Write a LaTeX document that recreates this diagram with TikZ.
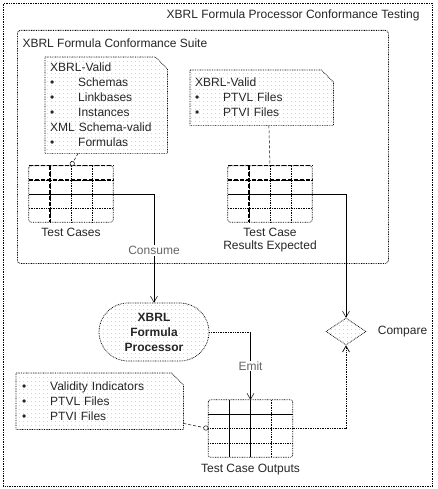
\documentclass[tikz,border=0pt]{standalone}
\usepackage{fontspec}
\setmainfont{Liberation Sans}
\usetikzlibrary{arrows.meta,calc,positioning,shapes.geometric,patterns.meta,backgrounds}

\newcommand{\noteitem}[1]{\makebox[28pt][l]{\textbullet}#1}
% note outline with folded corner, drawn behind the text
\newcommand{\foldnote}[1]{%
  \draw[noteline] (#1.north west) -- ([xshift=-12pt]#1.north east) -- ([yshift=-12pt]#1.north east)
    -- (#1.south east) -- (#1.south west) -- cycle;
}
% 4x4 table grid on a table node
\newcommand{\casegrid}[1]{%
  \draw[cellline, rounded corners=2pt] (#1.north west) rectangle (#1.south east);
  \foreach \k in {1,2,3} {
    \draw[cellline] ($(#1.north west)!{\k/4}!(#1.north east)$) -- ($(#1.south west)!{\k/4}!(#1.south east)$);
    \draw[cellline] ($(#1.north west)!{\k/4}!(#1.south west)$) -- ($(#1.north east)!{\k/4}!(#1.south east)$);
  }
}
\newcommand{\headgrid}[1]{%
  \draw[headline] (#1.north west) -- (#1.north east);
  \draw[headline] ($(#1.north west)!0.25!(#1.south west)$) -- ($(#1.north east)!0.25!(#1.south east)$);
  \draw[headline] ($(#1.north west)!0.25!(#1.north east)$) -- ($(#1.south west)!0.25!(#1.south east)$);
  \draw[line width=0.5pt] (#1.west) -- (#1.east);
}

\tikzset{
  every node/.style={font=\fontsize{12}{15}\selectfont, text=black!85},
  dotfill/.style={pattern={Dots[distance=4pt,radius=0.4pt]}, pattern color=black!40},
  frameline/.style={draw, line width=0.8pt, dash pattern=on 0.8pt off 0.9pt, inner sep=0pt, anchor=north west},
  note/.style={rectangle, align=left, inner xsep=5pt, inner ysep=0pt, anchor=north west},
  noteline/.style={line width=0.7pt, dash pattern=on 0.8pt off 0.9pt, dotfill},
  tablebox/.style={rectangle, minimum width=84pt, minimum height=56pt, inner sep=0pt},
  tablelbl/.style={align=center, font=\fontsize{12}{13}\selectfont},
  cellline/.style={line width=0.7pt, dash pattern=on 0.8pt off 0.9pt},
  headline/.style={line width=1.3pt, dash pattern=on 4pt off 2pt},
  flow/.style={line width=0.5pt, -{Straight Barb[length=6pt,width=7pt]}},
  anchorline/.style={line width=0.5pt, dash pattern=on 3pt off 2pt, -{Circle[open,length=5pt,fill=white]}},
  lbl/.style={fill=white, inner sep=1pt, text=black!60},
  process/.style={rectangle, draw, line width=0.7pt, dash pattern=on 0.8pt off 0.9pt, rounded corners=29pt,
    minimum width=110pt, minimum height=58pt, align=center, dotfill,
    font=\fontsize{12}{15}\selectfont\bfseries},
  decision/.style={diamond, draw, line width=0.7pt, dash pattern=on 0.8pt off 0.9pt, minimum width=40pt,
    minimum height=27pt, inner sep=0pt, dotfill},
}

\begin{document}
\begin{tikzpicture}[x=1pt,y=-1pt]
    \useasboundingbox (0,0) rectangle (437,489);
    % frames
    \node[frameline, minimum width=429pt, minimum height=483pt] (testing) at (3,3) {};
    \node[anchor=east] (testingttl) at (423,15) {XBRL Formula Processor Conformance Testing};
    \node[frameline, rounded corners=3pt, minimum width=371pt, minimum height=233pt] (suite) at (17,30) {};
    \node[anchor=west] (suitettl) at (19,43) {XBRL Formula Conformance Suite};
    % notes
    \node[note, text width=112pt, minimum height=96pt] (inputs) at (45,57)
      {XBRL-Valid\\ \noteitem{Schemas}\\ \noteitem{Linkbases}\\ \noteitem{Instances}\\ XML Schema-valid\\ \noteitem{Formulas}};
    \node[note, text width=133pt, minimum height=55pt] (results) at (190,70)
      {XBRL-Valid\\ \noteitem{PTVL Files}\\ \noteitem{PTVI Files}};
    \node[note, inner xsep=6pt, text width=155pt, minimum height=56pt] (indicators) at (16,373)
      {\noteitem{Validity Indicators}\\ \noteitem{PTVL Files}\\ \noteitem{PTVI Files}};
    \begin{scope}[on background layer]
      \foldnote{inputs}
      \foldnote{results}
      \foldnote{indicators}
    \end{scope}
    % tables
    \node[tablebox] (cases) at (71,194) {};
    \node[tablebox] (expected) at (270,194) {};
    \node[tablebox, minimum height=57pt] (outputs) at (250.5,428.5) {};
    \casegrid{cases} \headgrid{cases}
    \casegrid{expected} \headgrid{expected}
    \casegrid{outputs}
    \draw[line width=1.3pt] ($(outputs.north west)!0.25!(outputs.south west)$) -- ($(outputs.north east)!0.25!(outputs.south east)$);
    \draw[line width=0.5pt] ($(outputs.north west)!0.25!(outputs.north east)$) -- ($(outputs.south west)!0.25!(outputs.south east)$);
    \draw[line width=0.5pt] (outputs.north) -- (outputs.south);
    \node[tablelbl, below=2pt of cases] (caseslbl) {Test Cases};
    \node[tablelbl, below=2pt of expected] (expectedlbl) {Test Case\\Results Expected};
    \node[tablelbl, below=3pt of outputs] (outputslbl) {Test Case Outputs};
    % processor and compare
    \node[process] (proc) at (154,332) {XBRL\\Formula\\Processor};
    \node[decision] (cmp) at (346,331.5) {};
    \node[right=8pt of cmp] (cmplbl) {Compare};
    % flows
    \draw[flow] (cases.east) -| node[lbl, pos=0.76] {Consume} (proc.north);
    \draw[flow] (expected.east) -| (cmp.north);
    \draw[cellline] (proc.east) -- (proc.east -| outputs.north);
    \draw[flow] (proc.east -| outputs.north) -- node[lbl, pos=0.5] {Emit} (outputs.north);
    \draw[flow, cellline] (outputs.east) -| (cmp.south);
    % note anchors
    \draw[anchorline] ($(inputs.south west)!0.27!(inputs.south east)$) -- (cases.north);
    \draw[line width=0.5pt, dash pattern=on 3pt off 2pt] ($(results.south west)!0.55!(results.south east)$) -- (expected.north);
    \draw[anchorline] ([yshift=6pt]indicators.south east) -- (outputs.west);
\end{tikzpicture}
\end{document}
